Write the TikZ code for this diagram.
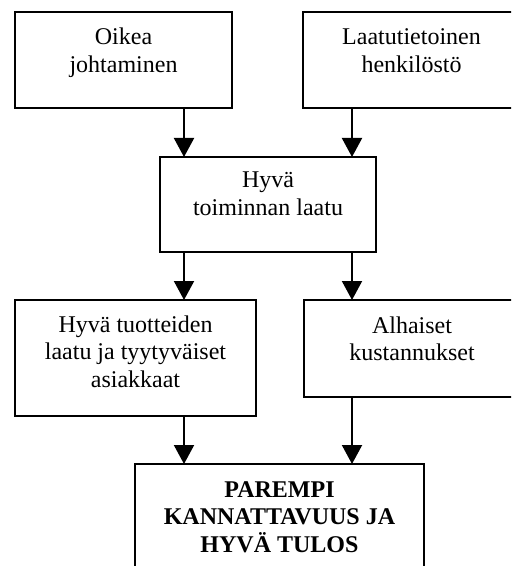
\documentclass[tikz,border=0pt]{standalone}
\usepackage{fontspec}
\setmainfont{Liberation Serif}
\usetikzlibrary{arrows.meta}

% Box text: top-aligned, centred, first baseline set by a strut
\newcommand{\boxtext}[4]{\parbox[c][#2][t]{#1}{\centering\fontsize{12}{13.8}\selectfont\rule{0pt}{#3}#4}}

\begin{document}
\begin{tikzpicture}[x=0.5pt,y=-0.5pt,
  flowbox/.style={draw=black,line width=1pt,inner sep=0pt,outer sep=0pt,fill=white},
  flowarrow/.style={line width=1pt,-{Triangle[width=10pt,length=9.5pt]}}]
  \clip (0,0) rectangle (511,566);
  \fill[white] (0,0) rectangle (511,566);

  % x positions of the two arrow columns
  \coordinate (ax1) at (184,0);
  \coordinate (ax2) at (352,0);

  % top row
  \node[flowbox] (lead) at (123.5,60)
    {\boxtext{108.5pt}{48pt}{16.5pt}{Oikea\\johtaminen}};
  \node[flowbox] (staff) at (411.5,60)
    {\boxtext{108.5pt}{48pt}{16.5pt}{Laatutietoinen\\henkilöstö}};

  % middle
  \node[flowbox] (ops) at (268,204.5)
    {\boxtext{108pt}{47.5pt}{15.5pt}{Hyvä\\toiminnan laatu}};

  % third row
  \node[flowbox] (prod) at (135.5,358)
    {\boxtext{120.5pt}{58pt}{16pt}{Hyvä tuotteiden\\laatu ja tyytyväiset\\asiakkaat}};
  \node[flowbox] (cost) at (412,348.5)
    {\boxtext{108pt}{48.5pt}{16.5pt}{Alhaiset\\kustannukset}};

  % result
  \node[flowbox] (result) at (279.5,524)
    {\boxtext{144.5pt}{60pt}{16.5pt}{\bfseries PAREMPI\\KANNATTAVUUS JA\\HYVÄ TULOS}};

  % connectors
  \draw[flowarrow] (lead.south -| ax1) -- (ops.north -| ax1);
  \draw[flowarrow] (staff.south -| ax2) -- (ops.north -| ax2);
  \draw[flowarrow] (ops.south -| ax1) -- (prod.north -| ax1);
  \draw[flowarrow] (ops.south -| ax2) -- (cost.north -| ax2);
  \draw[flowarrow] (prod.south -| ax1) -- (result.north -| ax1);
  \draw[flowarrow] (cost.south -| ax2) -- (result.north -| ax2);
\end{tikzpicture}
\end{document}
